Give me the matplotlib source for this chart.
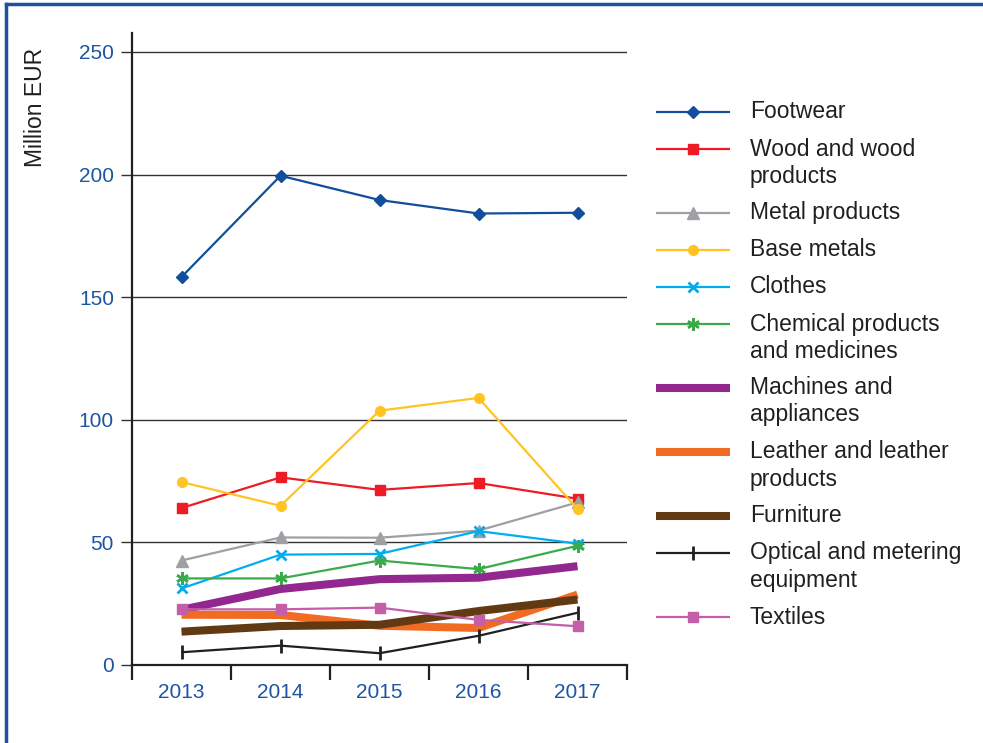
import numpy as np
import matplotlib
matplotlib.use('Agg')
import matplotlib.pyplot as plt
from matplotlib.lines import Line2D

plt.rcParams['font.family'] = ['Liberation Sans', 'DejaVu Sans']

# %%
# DATA (million EUR)

years = ['2013', '2014', '2015', '2016', '2017']

footwear  = [158.2, 199.5, 189.6, 184.1, 184.4]
wood      = [64.0, 76.5, 71.4, 74.2, 67.8]
metal     = [42.6, 52.0, 51.9, 54.8, 66.3]
base      = [74.6, 64.9, 103.7, 108.9, 63.6]
clothes   = [31.2, 45.0, 45.3, 54.6, 49.5]
chemical  = [35.3, 35.3, 42.6, 39.1, 48.6]
machines  = [22.5, 31.0, 35.0, 35.6, 40.3]
leather   = [20.5, 20.4, 16.0, 15.1, 28.7]
furniture = [13.6, 15.9, 16.4, 22.0, 26.7]
optical   = [5.2, 7.9, 4.8, 11.9, 21.3]
textiles  = [22.7, 22.7, 23.4, 18.4, 15.8]

labels = ['Footwear', 'Wood and wood\nproducts', 'Metal products', 'Base metals',
          'Clothes', 'Chemical products\nand medicines', 'Machines and\nappliances',
          'Leather and leather\nproducts', 'Furniture',
          'Optical and metering\nequipment', 'Textiles']
series = [footwear, wood, metal, base, clothes, chemical, machines,
          leather, furniture, optical, textiles]

# %%
# STYLES

text_col = '#231F20'
tick_col = '#1B55A4'
thin = 1.6
thick = 5.8
styles = [
    dict(color='#124E9C', lw=thin, marker='D', ms=6),
    dict(color='#ED1C24', lw=thin, marker='s', ms=7.5),
    dict(color='#A0A0A4', lw=thin, marker='^', ms=8),
    dict(color='#FFC423', lw=thin, marker='o', ms=7),
    dict(color='#00AEEF', lw=thin, marker='x', ms=7, mew=2),
    dict(color='#3BAA4A', lw=thin, marker=(6, 2, 0), ms=9, mew=1.8),
    dict(color='#92278F', lw=thick, marker=None),
    dict(color='#F16C22', lw=thick, marker=None),
    dict(color='#613A14', lw=thick, marker=None),
    dict(color=text_col, lw=thin, marker='|', ms=9.5, mew=2),
    dict(color='#C45EA8', lw=thin, marker='s', ms=7),
]

# %%
# FIGURE

fig = plt.figure(figsize=(9.83, 7.43), dpi=100)
ax = fig.add_axes([132 / 983, 78 / 743, 495 / 983, 632 / 743])

x = np.arange(len(years))
for vals, st in zip(series, styles):
    ax.plot(x, vals, color=st['color'], lw=st['lw'], marker=st['marker'],
            ms=st.get('ms', 0), mew=st.get('mew', 1),
            solid_capstyle='butt', solid_joinstyle='round')

ax.set_xlim(-0.5, 4.5)
ax.set_ylim(0, 257.7)

for side in ['top', 'right']:
    ax.spines[side].set_visible(False)
ax.spines['left'].set_linewidth(1.6)
ax.spines['bottom'].set_linewidth(1.6)
ax.spines['left'].set_color(text_col)
ax.spines['bottom'].set_color(text_col)

ax.set_xticks(np.arange(-0.5, 5, 1))
ax.set_xticklabels([])
ax.set_xticks(x, minor=True)
ax.set_xticklabels(years, minor=True)
ax.tick_params(axis='x', which='major', length=11, width=1.6, color=text_col)
ax.tick_params(axis='x', which='minor', length=0, pad=13, labelsize=15,
               labelcolor=tick_col)

ax.set_yticks(np.arange(0, 251, 50))
ax.tick_params(axis='y', length=8, width=1, color='#333333', pad=5,
               labelsize=15, labelcolor=tick_col)
ax.yaxis.grid(True, color='#333333', lw=1)
ax.set_axisbelow(True)

fig.text(35 / 983, 1 - 107 / 743, 'Million EUR', rotation=90,
         ha='center', va='center', fontsize=16.5, color=text_col)

# legend drawn by hand so the handle lines up with the first text line
row_y = 112
for lab, st in zip(labels, styles):
    yf = 1 - row_y / 743
    xs = np.array([656, 693, 730]) / 983
    fig.add_artist(Line2D(xs, [yf] * 3, color=st['color'],
                          lw=st['lw'], marker=st['marker'],
                          ms=st.get('ms', 0), mew=st.get('mew', 1),
                          markevery=[1], solid_capstyle='butt'))
    for k, part in enumerate(lab.split('\n')):
        fig.text(750 / 983, 1 - (row_y + 27 * k) / 743, part, ha='left',
                 va='center', fontsize=16.5, color=text_col)
    row_y += 64 if '\n' in lab else 37

# frame round the figure (top and left edges)
border = '#1B52A2'
fig.add_artist(Line2D([6 / 983, 1], [1 - 4 / 743] * 2, color=border, lw=2.5))
fig.add_artist(Line2D([6 / 983] * 2, [0, 1 - 4 / 743], color=border, lw=2.5))

fig.savefig('out.png', dpi=100)
